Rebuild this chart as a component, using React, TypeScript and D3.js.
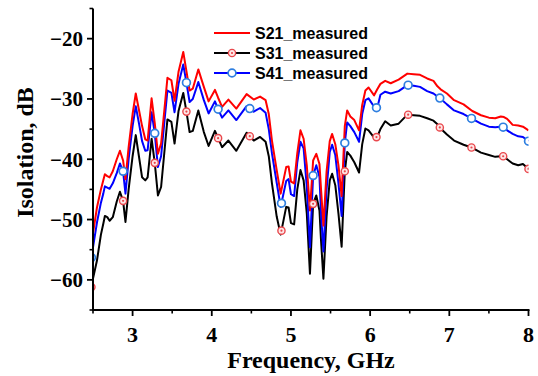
import React from 'react';
import * as d3 from 'd3';

const freq = [2.48, 2.5, 2.55, 2.6, 2.63, 2.65, 2.68, 2.71, 2.75, 2.8, 2.84, 2.88, 2.91, 2.95, 3.0, 3.04, 3.08, 3.12, 3.16, 3.19, 3.24, 3.28, 3.32, 3.36, 3.4, 3.44, 3.49, 3.53, 3.58, 3.64, 3.68, 3.72, 3.76, 3.83, 3.9, 3.96, 4.04, 4.08, 4.13, 4.21, 4.31, 4.44, 4.53, 4.61, 4.68, 4.72, 4.76, 4.82, 4.87, 4.94, 4.97, 5.0, 5.04, 5.08, 5.12, 5.16, 5.2, 5.24, 5.28, 5.32, 5.36, 5.38, 5.41, 5.45, 5.49, 5.52, 5.56, 5.6, 5.64, 5.68, 5.71, 5.75, 5.8, 5.86, 5.9, 5.94, 5.98, 6.05, 6.09, 6.13, 6.19, 6.26, 6.36, 6.47, 6.55, 6.63, 6.72, 6.8, 6.85, 6.89, 6.97, 7.06, 7.18, 7.29, 7.4, 7.5, 7.58, 7.65, 7.69, 7.73, 7.8, 7.87, 7.93, 8.0];

const s21 = [-53.5, -52.3, -48.0, -45.0, -43.5, -42.5, -42.8, -43.0, -42.0, -40.0, -38.6, -40.2, -43.3, -38.0, -32.5, -29.1, -31.8, -34.5, -36.7, -36.9, -29.9, -34.0, -39.1, -37.4, -32.0, -26.5, -26.9, -30.3, -25.5, -22.2, -25.4, -28.6, -28.3, -25.1, -28.0, -30.4, -28.5, -29.8, -31.3, -30.1, -31.6, -29.2, -30.1, -29.6, -30.2, -32.5, -36.9, -41.8, -45.7, -41.3, -41.2, -43.7, -44.0, -39.0, -35.2, -36.6, -41.0, -48.5, -40.2, -39.1, -40.8, -45.0, -51.0, -42.0, -37.0, -35.8, -37.5, -41.0, -46.1, -34.5, -31.9, -32.9, -33.5, -35.2, -31.0, -28.6, -28.1, -29.4, -28.4, -27.5, -27.0, -27.4, -26.8, -25.8, -25.9, -26.0, -26.6, -27.0, -27.9, -28.4, -29.1, -30.2, -30.9, -32.0, -32.7, -33.1, -33.2, -32.9, -33.0, -33.3, -34.3, -34.4, -34.6, -35.2];

const s31 = [-61.2, -59.8, -56.8, -52.5, -50.7, -49.4, -49.6, -50.2, -49.6, -47.0, -45.4, -46.9, -50.4, -45.0, -39.5, -36.0, -39.5, -43.0, -43.5, -43.0, -36.6, -40.6, -46.0, -44.6, -39.0, -33.4, -33.8, -37.4, -32.0, -29.0, -32.1, -35.5, -35.3, -31.9, -35.5, -37.8, -35.3, -36.5, -38.0, -36.9, -38.6, -35.6, -36.9, -36.3, -37.1, -39.5, -44.0, -49.5, -52.5, -47.9, -48.0, -50.6, -50.8, -45.0, -41.8, -43.5, -49.0, -59.0, -47.4, -46.0, -48.5, -53.5, -59.8, -49.5, -43.5, -42.4, -44.3, -49.0, -54.5, -42.0, -38.8, -39.4, -40.5, -42.2, -37.5, -34.9, -35.2, -36.4, -36.3, -35.0, -33.7, -34.4, -34.1, -32.6, -32.7, -32.8, -33.2, -33.6, -34.2, -34.9, -35.9, -36.9, -37.6, -38.1, -38.9, -39.3, -39.6, -39.5, -39.5, -40.0, -40.7, -41.0, -40.8, -41.6];

const s41 = [-56.3, -54.6, -50.5, -47.2, -45.7, -44.5, -44.7, -44.9, -44.0, -42.3, -40.7, -42.0, -45.7, -40.0, -34.5, -31.2, -34.0, -37.0, -38.6, -38.5, -32.2, -35.7, -41.3, -39.5, -34.0, -28.6, -29.0, -32.2, -27.5, -24.3, -27.3, -30.5, -30.0, -27.2, -30.2, -32.4, -30.4, -31.7, -33.1, -31.9, -33.5, -31.2, -32.1, -31.5, -32.3, -35.0, -39.0, -43.9, -47.9, -43.6, -43.3, -45.8, -46.1, -40.5, -37.1, -38.2, -44.5, -54.6, -42.7, -41.0, -42.9, -49.0, -55.3, -45.0, -38.8, -37.6, -39.3, -44.0, -49.4, -37.3, -33.9, -34.5, -35.5, -37.1, -32.5, -30.2, -29.9, -31.3, -31.5, -29.3, -28.8, -29.1, -28.7, -27.7, -27.8, -28.0, -28.7, -29.1, -29.6, -29.95, -30.9, -31.9, -32.5, -33.3, -34.1, -34.6, -34.7, -34.6, -34.7, -35.2, -35.8, -36.2, -36.3, -37.0];

const markerFreq = [2.48, 2.88, 3.28, 3.68, 4.08, 4.48, 4.88, 5.28, 5.68, 6.08, 6.48, 6.88, 7.28, 7.68, 8.0];

const xMajor = [3, 4, 5, 6, 7, 8];
const xMinor = [2.5, 3.5, 4.5, 5.5, 6.5, 7.5];
const yMajor = [-60, -50, -40, -30, -20];
const yMinor = [-65, -55, -45, -35, -25, -15];

const legendLabels = ['S21_measured', 'S31_measured', 'S41_measured'];
const xTitle = 'Frequency, GHz';
const yTitle = 'Isolation, dB';

const RED = '#ff0000';
const BLACK = '#000000';
const BLUE = '#0000ff';
const MRED = '#e9474c';
const MBLUE = '#2f7fe0';

const SERIF = '"Liberation Serif", "Times New Roman", serif';
const SANS = '"Liberation Sans", Arial, sans-serif';

function interp(vals: number[], f: number): number {
  const i = d3.bisectLeft(freq, f);
  if (i <= 0) return vals[0];
  if (i >= freq.length) return vals[vals.length - 1];
  const f0 = freq[i - 1], f1 = freq[i];
  const t = (f - f0) / (f1 - f0);
  return vals[i - 1] + t * (vals[i] - vals[i - 1]);
}

function RedDotMarker({ cx, cy }: { cx: number; cy: number }) {
  return (
    <g>
      <circle cx={cx} cy={cy} r={3.6} fill="#fde6e6" stroke={MRED} strokeWidth={1.4} />
      <circle cx={cx} cy={cy} r={1.1} fill={MRED} />
    </g>
  );
}

function BlueMarker({ cx, cy }: { cx: number; cy: number }) {
  return <circle cx={cx} cy={cy} r={3.9} fill="#ffffff" stroke={MBLUE} strokeWidth={1.7} />;
}

export default function App() {
  const W = 538, H = 376;
  const x = d3.scaleLinear().domain([2.5, 8]).range([93, 528.5]);
  const y = d3.scaleLinear().domain([-65, -15]).range([310, 8.5]);
  const mkLine = (vals: number[]) =>
    d3.line<number>().x((_, i) => x(freq[i])).y((d) => y(d))(vals) || '';

  const x0 = x(2.5), x1 = x(8);
  const yb = y(-65), yt = y(-15);

  const legendY = [33, 53, 73];
  const legX0 = 214, legX1 = 250, legText = 255;

  return (
    <svg width={W} height={H} viewBox={`0 0 ${W} ${H}`} style={{ position: 'absolute', left: 0, top: 0, background: '#fff' }}>
      <defs>
        <clipPath id="plotclip">
          <rect x={x0} y={yt - 5} width={x1 - x0} height={yb - yt + 5} />
        </clipPath>
      </defs>
      <rect x={0} y={0} width={W} height={H} fill="#fff" />

      <g clipPath="url(#plotclip)">
        <path d={mkLine(s31)} fill="none" stroke={BLACK} strokeWidth={2} strokeLinejoin="round" />
        <path d={mkLine(s41)} fill="none" stroke={BLUE} strokeWidth={2} strokeLinejoin="round" />
        <path d={mkLine(s21)} fill="none" stroke={RED} strokeWidth={2} strokeLinejoin="round" />
        {markerFreq.map((f, i) => (
          <RedDotMarker key={'m31' + i} cx={x(f)} cy={y(interp(s31, f))} />
        ))}
        {markerFreq.map((f, i) => (
          <BlueMarker key={'m41' + i} cx={x(f)} cy={y(interp(s41, f))} />
        ))}
      </g>

      {/* axes */}
      <line x1={x0} x2={x0} y1={yt} y2={yb + 1} stroke="#000" strokeWidth={2} />
      <line x1={x0 - 1} x2={x1 + 1} y1={yb} y2={yb} stroke="#000" strokeWidth={2} />
      {yMajor.map((v) => (
        <line key={'ym' + v} x1={x0 - 6} x2={x0} y1={y(v)} y2={y(v)} stroke="#000" strokeWidth={1.8} />
      ))}
      {yMinor.map((v) => (
        <line key={'yn' + v} x1={x0 - 3.5} x2={x0} y1={y(v)} y2={y(v)} stroke="#000" strokeWidth={1.6} />
      ))}
      {xMajor.map((v) => (
        <line key={'xm' + v} x1={x(v)} x2={x(v)} y1={yb} y2={yb + 6} stroke="#000" strokeWidth={1.8} />
      ))}
      {xMinor.map((v) => (
        <line key={'xn' + v} x1={x(v)} x2={x(v)} y1={yb} y2={yb + 3.5} stroke="#000" strokeWidth={1.6} />
      ))}

      {yMajor.map((v) => (
        <text key={'yl' + v} x={83} y={y(v)} dy="0.35em" textAnchor="end" fontFamily={SERIF} fontWeight="bold" fontSize={21}>
          {'\u2212' + Math.abs(v)}
        </text>
      ))}
      {xMajor.map((v) => (
        <text key={'xl' + v} x={x(v)} y={342} textAnchor="middle" fontFamily={SERIF} fontWeight="bold" fontSize={22}>
          {String(v)}
        </text>
      ))}

      <text x={311} y={368} textAnchor="middle" fontFamily={SERIF} fontWeight="bold" fontSize={24}>
        {xTitle}
      </text>
      <text transform={`translate(33,152.5) rotate(-90)`} textAnchor="middle" fontFamily={SERIF} fontWeight="bold" fontSize={24}>
        {yTitle}
      </text>

      {/* legend */}
      {legendLabels.map((lab, i) => (
        <g key={lab}>
          <line x1={legX0} x2={legX1} y1={legendY[i]} y2={legendY[i]} stroke={[RED, BLACK, BLUE][i]} strokeWidth={2} />
          {i === 1 && <RedDotMarker cx={(legX0 + legX1) / 2} cy={legendY[i]} />}
          {i === 2 && <BlueMarker cx={(legX0 + legX1) / 2} cy={legendY[i]} />}
          <text x={legText} y={legendY[i]} dy="0.35em" fontFamily={SANS} fontWeight="bold" fontSize={16}>
            {lab}
          </text>
        </g>
      ))}
    </svg>
  );
}
